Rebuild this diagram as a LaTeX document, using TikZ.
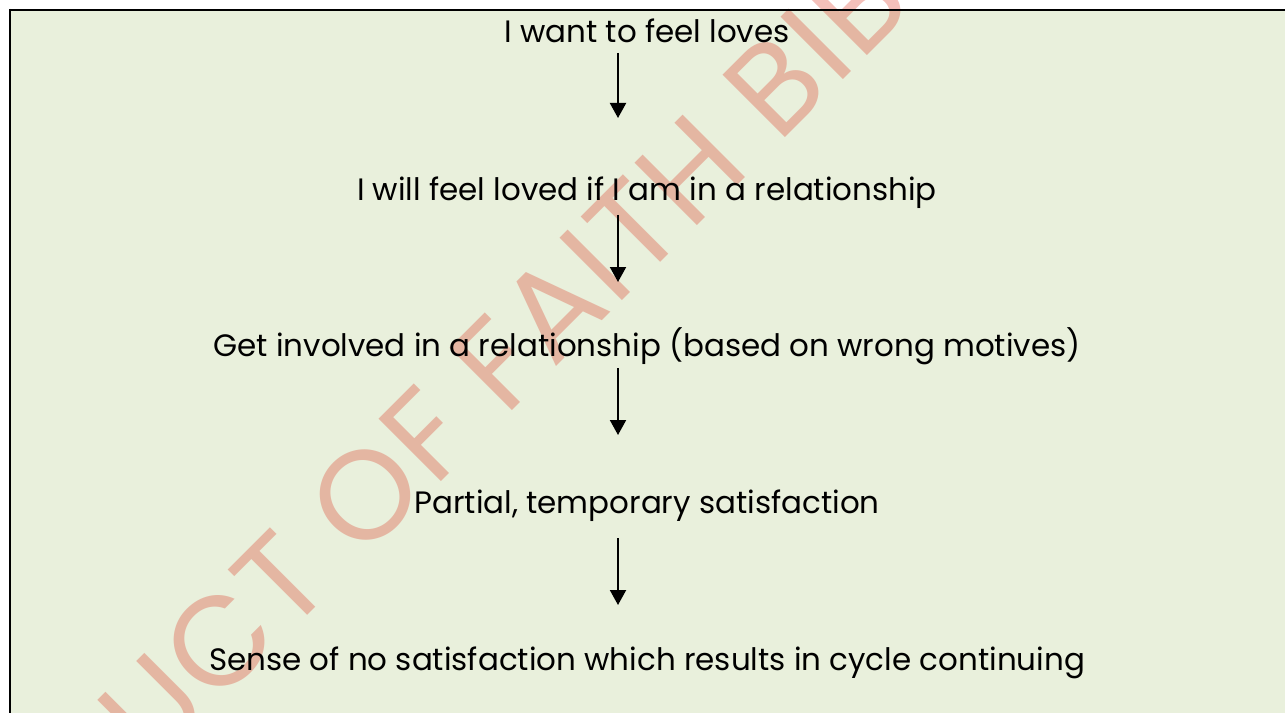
\documentclass[tikz,border=0pt]{standalone}
\usepackage{fontspec}
\setmainfont{Poppins}
\usetikzlibrary{arrows.meta}
\definecolor{boxgreen}{RGB}{233,240,220}
\definecolor{markred}{RGB}{220,60,40}
\tikzset{
  flowtext/.style={font=\fontsize{23.2}{28}\selectfont, inner sep=0pt, anchor=base},
  flowarrow/.style={line width=1.5pt, -{Triangle[length=11.25pt,width=12pt]}},
}
\begin{document}
\begin{tikzpicture}[x=0.75pt,y=0.75pt,yscale=-1,xscale=1]
\useasboundingbox (0,0) rectangle (1285,713);
\clip (0,0) rectangle (1285,713);

%Shape: Rectangle [id:box]
\fill [boxgreen] (10,10) rectangle (1290,720);

% Watermark
\node (mark) [anchor=base west, rotate=45, inner sep=0pt, text=markred, opacity=0.32, font=\fontsize{95}{95}\selectfont\addfontfeature{LetterSpace=2.5}] at (153,770) {UCT OF FAITH BIB};

%Straight Lines [id:topedge]
\draw [line width=1.5pt] (9,10) -- (1290,10) ;
%Straight Lines [id:leftedge]
\draw [line width=1.5pt] (10,9) -- (10,720) ;

% Text Node
\node (want) [flowtext] at (647,43) {I want to feel loves};
% Text Node
\node (loved) [flowtext] at (647,200) {I will feel loved if I am in a relationship};
% Text Node
\node (involved) [flowtext] at (647,356) {Get involved in a relationship (based on wrong motives)};
% Text Node
\node (partial) [flowtext] at (647,513) {Partial, temporary satisfaction};
% Text Node
\node (nosat) [flowtext] at (647,670) {Sense of no satisfaction which results in cycle continuing};

% arrow ends
\coordinate (a1) at (618,53);  \coordinate (b1) at (618,118);
\coordinate (a2) at (618,215); \coordinate (b2) at (618,282);
\coordinate (a3) at (618,368); \coordinate (b3) at (618,435);
\coordinate (a4) at (618,538); \coordinate (b4) at (618,605);

%Straight Lines
\draw [flowarrow] (a1) -- (b1) ;
%Straight Lines
\draw [flowarrow] (a2) -- (b2) ;
%Straight Lines
\draw [flowarrow] (a3) -- (b3) ;
%Straight Lines
\draw [flowarrow] (a4) -- (b4) ;
\end{tikzpicture}
\end{document}
